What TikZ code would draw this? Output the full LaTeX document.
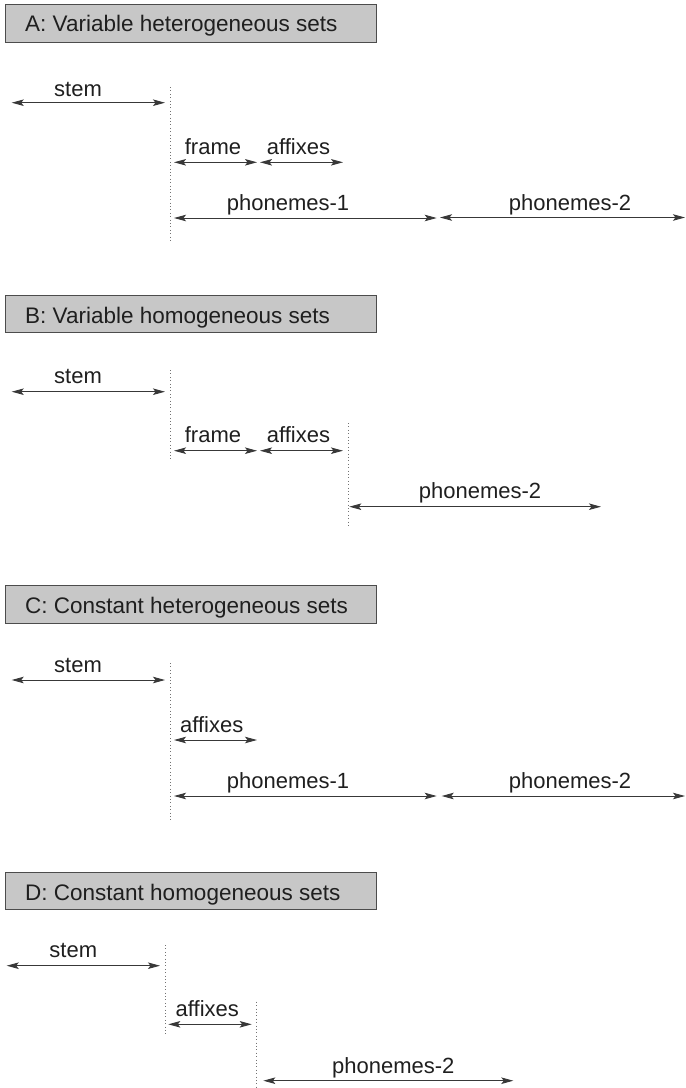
\documentclass[tikz,border=0pt]{standalone}
\usepackage{fontspec}
\setmainfont{Liberation Sans}
\usetikzlibrary{arrows.meta}
\tikzset{
  titlebox/.style={draw=black!70, line width=0.8pt, fill=black!22},
  titletext/.style={anchor=base west, inner sep=0pt, font=\fontsize{22.5}{24}\selectfont, text=black!88},
  lbl/.style={anchor=base, inner sep=0pt, font=\fontsize{22}{24}\selectfont, text=black!88},
  dimarrow/.style={line width=0.9pt, draw=black!78, {Stealth[length=12pt,width=6.5pt,inset=2.5pt]}-{Stealth[length=12pt,width=6.5pt,inset=2.5pt]}},
  sep/.style={draw=black!55, line width=0.7pt, dash pattern=on 0.8pt off 2.6pt}
}
\begin{document}
\begin{tikzpicture}[x=1pt,y=-1pt]
\useasboundingbox (0,0) rectangle (686,1088);
% ---------------- Panel A ----------------
\node[titlebox, anchor=north west, minimum width=371pt, minimum height=38.3pt, inner sep=0pt] (boxA) at (5,4) {};
\node[titletext] (titA) at (25,31.5) {A: Variable heterogeneous sets};
\coordinate (As1) at (11.7,102.7); \coordinate (As2) at (165,102.7);
\draw[dimarrow] (As1) -- (As2);
\node[lbl] (Astem) at (78,96) {stem};
\coordinate (Ad1) at (170.7,87); \coordinate (Ad2) at (170.7,242);
\draw[sep] (Ad1) -- (Ad2);
\coordinate (Af1) at (174,162.3); \coordinate (Af2) at (257,162.3);
\draw[dimarrow] (Af1) -- (Af2);
\node[lbl] (Aframe) at (213,154) {frame};
\coordinate (Aa1) at (260,162.3); \coordinate (Aa2) at (343,162.3);
\draw[dimarrow] (Aa1) -- (Aa2);
\node[lbl] (Aaff) at (298.5,154) {affixes};
\coordinate (Ap1) at (174,218); \coordinate (Ap2) at (436.7,218);
\draw[dimarrow] (Ap1) -- (Ap2);
\node[lbl] (Aph1) at (288,210) {phonemes-1};
\coordinate (Aq1) at (440,217.5); \coordinate (Aq2) at (685,217.5);
\draw[dimarrow] (Aq1) -- (Aq2);
\node[lbl] (Aph2) at (570,210) {phonemes-2};
% ---------------- Panel B ----------------
\node[titlebox, anchor=north west, minimum width=371pt, minimum height=37.3pt, inner sep=0pt] (boxB) at (5,295) {};
\node[titletext] (titB) at (25,323.5) {B: Variable homogeneous sets};
\coordinate (Bs1) at (11.7,391.7); \coordinate (Bs2) at (165,391.7);
\draw[dimarrow] (Bs1) -- (Bs2);
\node[lbl] (Bstem) at (78,383.5) {stem};
\coordinate (Bd1) at (170.7,370); \coordinate (Bd2) at (170.7,461.7);
\draw[sep] (Bd1) -- (Bd2);
\coordinate (Bf1) at (174,450.7); \coordinate (Bf2) at (257,450.7);
\draw[dimarrow] (Bf1) -- (Bf2);
\node[lbl] (Bframe) at (213,442.5) {frame};
\coordinate (Ba1) at (260,450.7); \coordinate (Ba2) at (343,450.7);
\draw[dimarrow] (Ba1) -- (Ba2);
\node[lbl] (Baff) at (298.5,442.5) {affixes};
\coordinate (Be1) at (348.3,423); \coordinate (Be2) at (348.3,527);
\draw[sep] (Be1) -- (Be2);
\coordinate (Bq1) at (349.3,506.7); \coordinate (Bq2) at (601,506.7);
\draw[dimarrow] (Bq1) -- (Bq2);
\node[lbl] (Bph2) at (480,498) {phonemes-2};
% ---------------- Panel C ----------------
\node[titlebox, anchor=north west, minimum width=371pt, minimum height=37.7pt, inner sep=0pt] (boxC) at (5,585) {};
\node[titletext] (titC) at (25,613) {C: Constant heterogeneous sets};
\coordinate (Cs1) at (11.7,680); \coordinate (Cs2) at (165,680);
\draw[dimarrow] (Cs1) -- (Cs2);
\node[lbl] (Cstem) at (78,672) {stem};
\coordinate (Cd1) at (170.7,663); \coordinate (Cd2) at (170.7,820);
\draw[sep] (Cd1) -- (Cd2);
\coordinate (Ca1) at (174,740); \coordinate (Ca2) at (257,740);
\draw[dimarrow] (Ca1) -- (Ca2);
\node[lbl] (Caff) at (211.7,732) {affixes};
\coordinate (Cp1) at (174,796); \coordinate (Cp2) at (436.7,796);
\draw[dimarrow] (Cp1) -- (Cp2);
\node[lbl] (Cph1) at (288,788) {phonemes-1};
\coordinate (Cq1) at (441.7,796); \coordinate (Cq2) at (685,796);
\draw[dimarrow] (Cq1) -- (Cq2);
\node[lbl] (Cph2) at (570,788) {phonemes-2};
% ---------------- Panel D ----------------
\node[titlebox, anchor=north west, minimum width=371pt, minimum height=37.6pt, inner sep=0pt] (boxD) at (5,871.7) {};
\node[titletext] (titD) at (25,900) {D: Constant homogeneous sets};
\coordinate (Ds1) at (6.7,965.7); \coordinate (Ds2) at (160,965.7);
\draw[dimarrow] (Ds1) -- (Ds2);
\node[lbl] (Dstem) at (73.3,957) {stem};
\coordinate (Dd1) at (165.7,945); \coordinate (Dd2) at (165.7,1035);
\draw[sep] (Dd1) -- (Dd2);
\coordinate (Da1) at (168.3,1024.3); \coordinate (Da2) at (251.7,1024.3);
\draw[dimarrow] (Da1) -- (Da2);
\node[lbl] (Daff) at (207.3,1016.5) {affixes};
\coordinate (De1) at (256.7,1001.7); \coordinate (De2) at (256.7,1088);
\draw[sep] (De1) -- (De2);
\coordinate (Dq1) at (263.3,1080.7); \coordinate (Dq2) at (513.3,1080.7);
\draw[dimarrow] (Dq1) -- (Dq2);
\node[lbl] (Dph2) at (393.3,1073) {phonemes-2};
\end{tikzpicture}
\end{document}
